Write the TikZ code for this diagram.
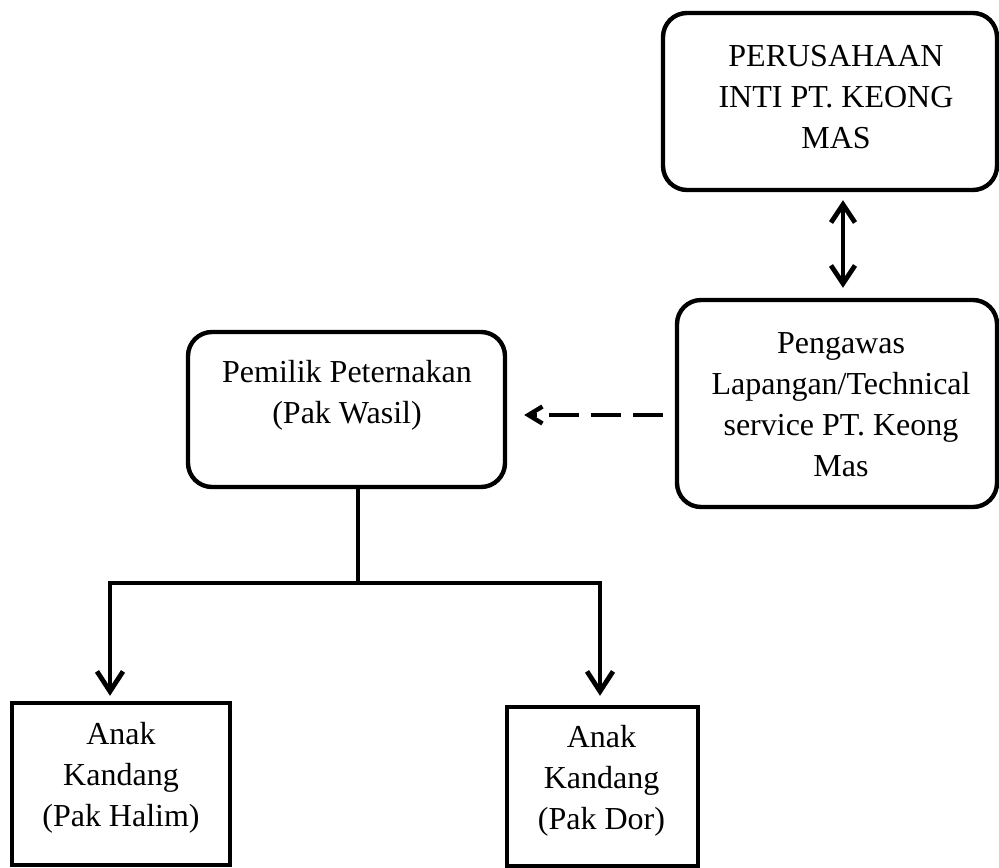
\documentclass[tikz,border=0pt]{standalone}
\usepackage{fontspec}
\setmainfont{Liberation Serif}
\usetikzlibrary{arrows.meta,positioning,calc}

\begin{document}
\begin{tikzpicture}[x=0.5pt, y=-0.5pt, line width=2.2pt,
  font=\fontsize{16}{20.5}\selectfont,
  rbox/.style={draw, rounded corners=12pt, inner sep=0pt},
  sbox/.style={draw, inner sep=0pt},
  txt/.style={align=center, inner sep=0pt},
  tip/.style={line width=2.4pt, -{Straight Barb[length=10pt, width=13pt]}},
  dashtip/.style={-{Straight Barb[length=7pt, width=8.5pt]}, dash pattern=on 15pt off 6pt}]
\useasboundingbox (0,0) rectangle (999,867);
% frames
\node[rbox, minimum width=167pt, minimum height=88.5pt] (inti) at (830,101.5) {};
\node[rbox, minimum width=160pt, minimum height=103.5pt] (pengawas) at (837,403.5) {};
\node[rbox, minimum width=158.5pt, minimum height=77.5pt] (pemilik) at (346.5,409.5) {};
\node[sbox, minimum width=109pt, minimum height=81pt] (halim) at (121,784) {};
\node[sbox, minimum width=95.5pt, minimum height=79.5pt] (dor) at (602.5,786.5) {};
% texts
\node[txt] (intitext) at (836,97) {PERUSAHAAN\\INTI PT. KEONG\\MAS};
\node[txt] (pengawastext) at (841,404.5) {Pengawas\\Lapangan/Technical\\service PT. Keong\\Mas};
\node[txt] (pemiliktext) at (347,395) {Pemilik Peternakan\\(Pak Wasil)};
\node[txt] (halimtext) at (121,778) {Anak\\Kandang\\(Pak Halim)};
\node[txt] (dortext) at (601.5,781) {Anak\\Kandang\\(Pak Dor)};
% connectors
\coordinate (updown) at (843,0);
\draw[line width=2.4pt, {Straight Barb[length=9pt, width=12pt]}-{Straight Barb[length=9pt, width=12pt]},
  shorten <=4pt, shorten >=5pt] (inti.south -| updown) -- (pengawas.north -| updown);
\coordinate (dashy) at (0,415);
\draw[dashtip, shorten <=6pt, shorten >=8.5pt] (pengawas.west |- dashy) -- (pemilik.east |- dashy);
\coordinate (fork) at (358,583);
\draw[line width=2.4pt] (pemilik.south -| fork) -- (fork);
\draw[tip, shorten >=2.5pt] (fork) -| ([xshift=-5.5pt]halim.north);
\draw[tip, shorten >=4.5pt] (fork) -| ([xshift=-1.25pt]dor.north);
\end{tikzpicture}
\end{document}
